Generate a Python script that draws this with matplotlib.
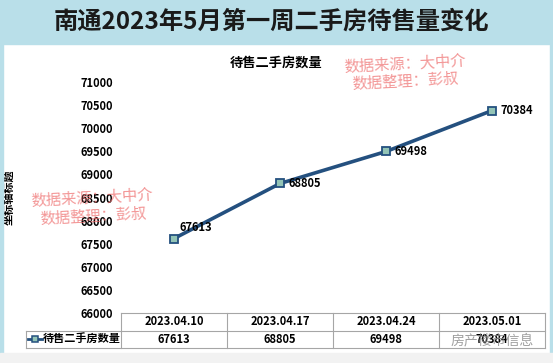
import matplotlib

matplotlib.use("Agg")
import matplotlib.pyplot as plt  # noqa: E402
import matplotlib.transforms as mtransforms  # noqa: E402
from matplotlib.patches import Rectangle  # noqa: E402

BANNER = "#b9dfe9"
LINE = "#24507f"
MARKER_FACE = "#93c4b6"
GRID = "#a6a6a6"
INK = "#1a1a1a"
WATERMARK = "#ee6b6b"

dates = ["2023.04.10", "2023.04.17", "2023.04.24", "2023.05.01"]
counts = [67613, 68805, 69498, 70384]
series_name = "待售二手房数量"
y_ticks = list(range(66000, 71001, 500))

plt.rcParams["font.family"] = ["Noto Sans CJK SC", "DejaVu Sans"]

fig = plt.figure(figsize=(5.53, 3.63), dpi=100)
fig.patch.set_facecolor("white")

# banner + frame
fig.patches.append(Rectangle((0, 0.878), 1, 0.122, transform=fig.transFigure,
                             color=BANNER, zorder=0))
fig.patches.append(Rectangle((0, 0), 0.005, 1, transform=fig.transFigure,
                             color=BANNER, zorder=0))
fig.patches.append(Rectangle((0.995, 0), 0.005, 1, transform=fig.transFigure,
                             color=BANNER, zorder=0))
fig.patches.append(Rectangle((0, 0), 1, 0.028, transform=fig.transFigure,
                             color="#f2f2f2", zorder=0))
fig.text(0.49, 0.94, "南通2023年5月第一周二手房待售量变化", ha="center", va="center",
         fontsize=17.5, fontweight="bold", color=INK)

ax = fig.add_axes([0.2188, 0.1377, 0.7667, 0.636])
ax.set_facecolor("none")
x = list(range(len(dates)))
ax.plot(x, counts, color=LINE, linewidth=2.6, marker="s", markersize=6,
        markerfacecolor=MARKER_FACE, markeredgecolor=LINE, markeredgewidth=1.3,
        zorder=3)
ax.set_xlim(-0.5, len(dates) - 0.5)
ax.set_ylim(y_ticks[0], y_ticks[-1])
ax.set_yticks(y_ticks)
ax.set_xticks([])
ax.tick_params(axis="y", length=0, pad=6, labelsize=8)
for lab in ax.get_yticklabels():
    lab.set_fontweight("bold")
for s in ax.spines.values():
    s.set_visible(False)
ax.set_ylabel("坐标轴标题", fontsize=8, fontweight="bold")
ax.yaxis.set_label_coords(-0.25, 0.5)
ax.set_title(series_name, fontsize=9.5, fontweight="bold", pad=11, x=0.365)

# point labels
for i, v in enumerate(counts):
    if i == 0:
        ax.annotate(f"{v}", (i, v), xytext=(4, 8), textcoords="offset points",
                    ha="left", va="center", fontsize=8, fontweight="bold")
    else:
        ax.annotate(f"{v}", (i, v), xytext=(6, 0), textcoords="offset points",
                    ha="left", va="center", fontsize=8, fontweight="bold")

# data table under the axes
trans = mtransforms.blended_transform_factory(ax.transData, ax.transAxes)
rh = 17.5 / 231
left_cell = -1.396
lw = 0.8
n = len(dates)
ax.plot([-0.5, n - 0.5], [0, 0], color=GRID, lw=lw, transform=trans, clip_on=False)
ax.plot([-0.5, n - 0.5], [-rh, -rh], color=GRID, lw=lw, transform=trans, clip_on=False)
ax.plot([left_cell, -0.5], [-rh, -rh], color=GRID, lw=lw, transform=trans, clip_on=False)
ax.plot([left_cell, n - 0.5], [-2 * rh, -2 * rh], color=GRID, lw=lw, transform=trans,
        clip_on=False)
ax.plot([left_cell, left_cell], [-rh, -2 * rh], color=GRID, lw=lw, transform=trans,
        clip_on=False)
for b in range(n + 1):
    ax.plot([b - 0.5, b - 0.5], [0, -2 * rh], color=GRID, lw=lw, transform=trans,
            clip_on=False)
for i, (d, v) in enumerate(zip(dates, counts)):
    ax.text(i, -0.5 * rh, d, transform=trans, ha="center", va="center",
            fontsize=8, fontweight="bold")
    ax.text(i, -1.5 * rh, f"{v}", transform=trans, ha="center", va="center",
            fontsize=8, fontweight="bold")
ax.plot([-1.377, -1.245], [-1.5 * rh, -1.5 * rh], color=LINE, lw=2, transform=trans,
        clip_on=False)
ax.plot([-1.311], [-1.5 * rh], transform=trans, clip_on=False, marker="s",
        markersize=5, markerfacecolor=MARKER_FACE, markeredgecolor=LINE,
        markeredgewidth=1.1)
ax.text(-1.236, -1.5 * rh, series_name, transform=trans, ha="left", va="center",
        fontsize=8, fontweight="bold")

# watermarks
wm = "数据来源：大中介\n数据整理：彭叔"
fig.text(0.733, 0.8, wm, ha="center", va="center", fontsize=11, color=WATERMARK,
         alpha=0.7, rotation=3, linespacing=1.1)
fig.text(0.168, 0.43, wm, ha="center", va="center", fontsize=11, color=WATERMARK,
         alpha=0.7, rotation=3, linespacing=1.1)
fig.text(0.89, 0.062, "房产楼市信息", ha="center", va="center", fontsize=10,
         color="#888888", alpha=0.8)

fig.savefig("out.png", dpi=100, facecolor="white")
